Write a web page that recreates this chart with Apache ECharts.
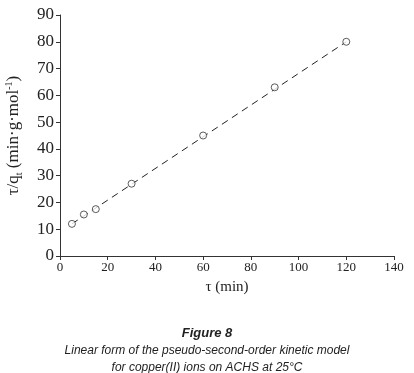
<!DOCTYPE html>
<html>
<head>
<meta charset="utf-8">
<script src="https://cdn.jsdelivr.net/npm/echarts@6/dist/echarts.min.js"></script>
<style>
  html, body { margin: 0; padding: 0; background: #fff; }
  #chart { width: 414px; height: 373px; }
</style>
</head>
<body>
<div id="chart"></div>
<script>
// 数据
const timeMin = [5, 10, 15, 30, 60, 90, 120];
const tOverQ = [12, 15.5, 17.5, 27, 45, 63, 80];
const fitX = [5, 120];
const fitY = [12.0, 80.0];
const xTicks = [0, 20, 40, 60, 80, 100, 120, 140];
const yTicks = [0, 10, 20, 30, 40, 50, 60, 70, 80, 90];

const serif = '"Liberation Serif", "DejaVu Serif", serif';
const sans = '"Liberation Sans", "DejaVu Sans", sans-serif';

const chart = echarts.init(document.getElementById('chart'));

const option = {
  animation: false,
  backgroundColor: '#fff',
  grid: { left: 60, right: 20, top: 15, bottom: 117, outerBoundsMode: 'none' },
  title: [
    {
      text: 'Figure 8',
      left: 'center',
      top: 322,
      textStyle: { fontFamily: sans, fontSize: 13, fontWeight: 'bold', fontStyle: 'italic', color: '#222' }
    },
    {
      text: 'Linear form of the pseudo-second-order kinetic model\nfor copper(II) ions on ACHS at 25°C',
      left: 'center',
      top: 337,
      textStyle: { fontFamily: sans, fontSize: 12, fontStyle: 'italic', fontWeight: 'normal', color: '#222', lineHeight: 17 }
    }
  ],
  xAxis: {
    type: 'value',
    min: xTicks[0],
    max: xTicks[xTicks.length - 1],
    interval: 20,
    name: 'τ (min)',
    nameLocation: 'middle',
    nameGap: 24,
    nameTextStyle: { fontFamily: serif, fontSize: 15, color: '#222' },
    axisLine: { lineStyle: { color: '#333', width: 1 } },
    axisTick: { show: true, inside: false, length: 4, lineStyle: { color: '#333' } },
    axisLabel: { fontFamily: serif, fontSize: 13, color: '#222', margin: 5 },
    splitLine: { show: false }
  },
  yAxis: {
    type: 'value',
    min: yTicks[0],
    max: yTicks[yTicks.length - 1],
    interval: 10,
    name: '{a|τ/q}{s|t}{a| (min·g·mol}{p|-1}{a|)}',
    nameLocation: 'middle',
    nameRotate: 90,
    nameGap: 36,
    nameTextStyle: {
      rich: {
        a: { fontFamily: serif, fontSize: 17, color: '#222', lineHeight: 20 },
        s: { fontFamily: serif, fontSize: 10, color: '#222', verticalAlign: 'bottom', lineHeight: 13 },
        p: { fontFamily: serif, fontSize: 10, color: '#222', verticalAlign: 'top', lineHeight: 13 }
      }
    },
    axisLine: { show: true, lineStyle: { color: '#333', width: 1 } },
    axisTick: { show: true, inside: false, length: 4, lineStyle: { color: '#333' } },
    axisLabel: { fontFamily: serif, fontSize: 17, color: '#222', margin: 6 },
    splitLine: { show: false }
  },
  series: [
    {
      type: 'line',
      data: fitX.map((x, i) => [x, fitY[i]]),
      showSymbol: false,
      lineStyle: { color: '#222', width: 1, type: [7, 5] },
      z: 1
    },
    {
      type: 'scatter',
      data: timeMin.map((x, i) => [x, tOverQ[i]]),
      symbol: 'circle',
      symbolSize: 7,
      itemStyle: { color: '#fff', borderColor: '#333', borderWidth: 1 },
      z: 2
    }
  ]
};

chart.setOption(option);
</script>
</body>
</html>
